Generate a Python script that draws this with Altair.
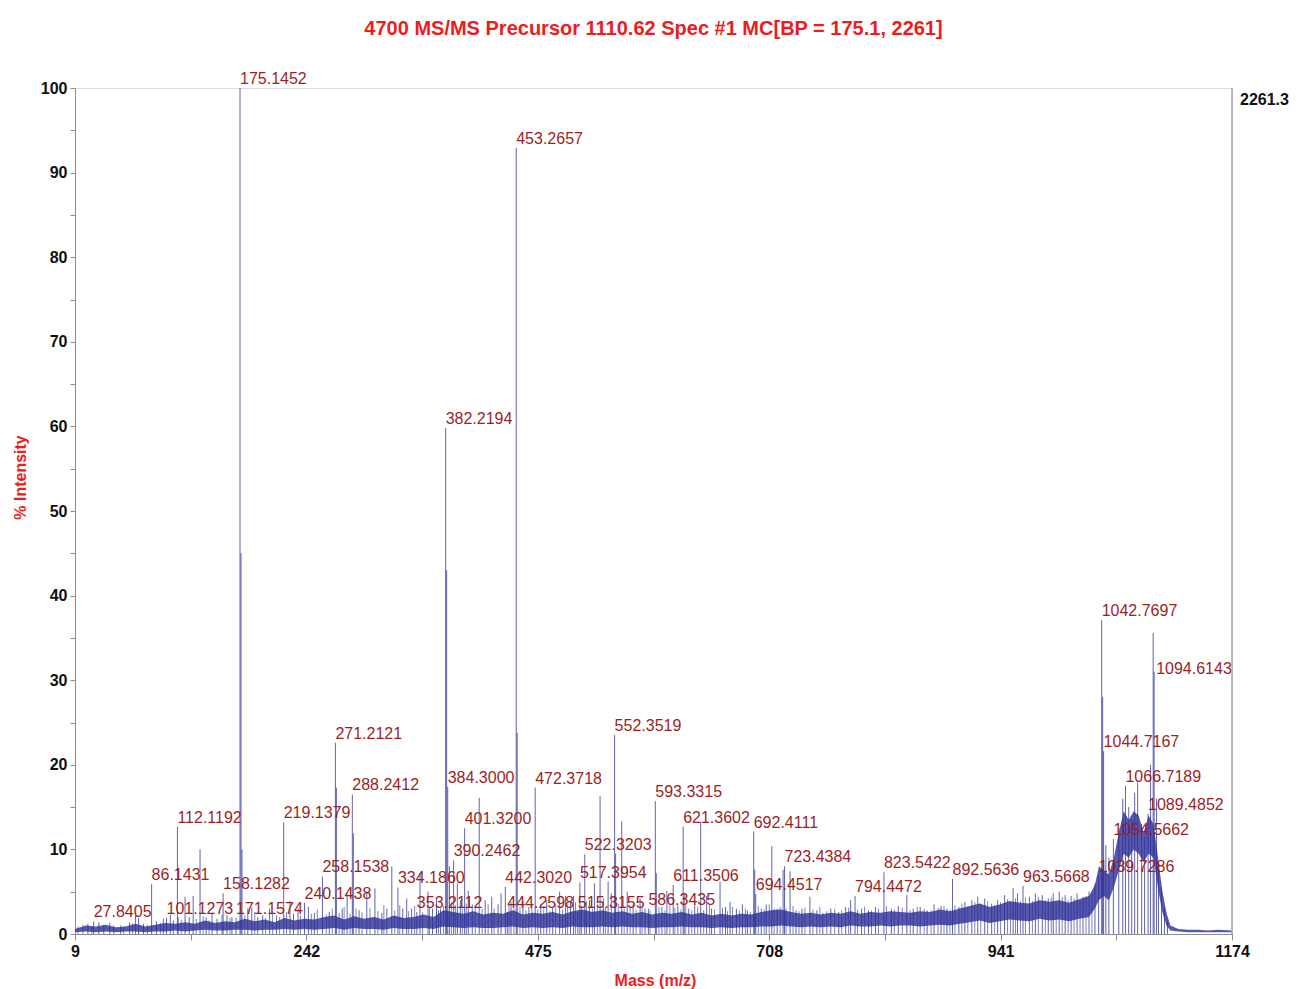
import altair as alt
import pandas as pd

# ---- annotated fragment peaks (m/z, % intensity) ----
labeled_mz = [27.8405, 86.1431, 101.1273, 112.1192, 158.1282, 171.1574, 175.1452,
              219.1379, 240.1438, 258.1538, 271.2121, 288.2412, 334.1860, 353.2112,
              382.2194, 384.3000, 390.2462, 401.3200, 442.3020, 444.2598, 453.2657,
              472.3718, 515.3155, 517.3954, 522.3203, 552.3519, 586.3435, 593.3315,
              611.3506, 621.3602, 692.4111, 694.4517, 723.4384, 794.4472, 823.5422,
              892.5636, 963.5668, 1039.7286, 1042.7697, 1044.7167, 1054.5662,
              1066.7189, 1089.4852, 1094.6143]
labeled_int = [1.5, 5.9, 1.9, 12.7, 4.8, 1.9, 100.0,
               13.2, 3.7, 6.8, 22.6, 16.5, 5.5, 2.6,
               59.8, 17.4, 8.7, 12.5, 5.6, 2.6, 92.9,
               17.3, 2.6, 6.1, 9.4, 23.5, 3.0, 15.7,
               5.8, 12.7, 12.1, 4.7, 8.0, 4.5, 7.3,
               6.5, 5.7, 6.9, 37.1, 21.6, 11.2,
               17.5, 14.2, 35.6]

# labels written beside their line rather than above its tip
side_labels = ["1094.6143"]

# ---- unannotated peaks (m/z, % intensity) ----
minor_mz = [22, 33, 38, 44, 55, 64, 70, 73, 78, 91, 98, 105, 108, 119.8, 124, 128,
            134.9, 141, 147, 152, 162, 167, 176.15, 177.15, 183, 187, 193, 198, 205,
            212, 225.5, 229, 233.6, 244, 250, 265, 272.21, 278, 283, 289.24, 295,
            302.8, 311, 318, 323, 328, 339, 343, 348, 356.4, 364.5, 369, 373, 377,
            383.22, 386, 394, 397, 405, 409, 416, 422, 428.6, 435, 438, 448, 454.27,
            460, 466, 478, 484, 490, 497, 503, 508, 511, 527, 532, 537.7, 541, 545.8,
            549, 553.35, 559.5, 565, 571, 578, 583, 594.33, 600, 605, 616, 622.36,
            627, 633, 639, 645, 650, 658.5, 664, 668.6, 675, 681, 686, 693.41, 700,
            705, 710.6, 716, 722, 729, 735, 741, 749, 756, 762, 770, 778, 785, 790,
            801, 808, 815, 831, 838, 846.6, 853, 860, 867, 874, 881, 887, 899, 905,
            912, 918, 925, 932, 938, 945, 953.6, 958, 970, 976, 983, 989, 994, 1000,
            1006, 1012, 1018, 1024, 1030, 1036, 1043.77, 1047, 1050, 1060, 1064,
            1070, 1073, 1076, 1079, 1083, 1086, 1092, 1095.61, 1098, 1100, 1103,
            1106, 1109]
minor_int = [1.2, 1.4, 1.1, 1.3, 1.0, 1.4, 2.2, 1.9, 1.2, 1.5, 1.8, 2.3, 1.6, 4.4, 2.0, 4.5,
             10.0, 2.0, 2.5, 1.8, 2.2, 2.0, 45.0, 10.0, 3.0, 3.1, 2.0, 2.2, 3.0,
             2.2, 3.9, 2.4, 3.0, 3.2, 2.5, 2.6, 17.3, 3.0, 4.8, 11.9, 2.8,
             5.0, 5.4, 2.5, 3.0, 8.0, 3.0, 4.2, 3.0, 7.2, 5.0, 3.0, 4.2, 3.0,
             43.0, 8.0, 6.0, 4.0, 5.1, 3.5, 16.1, 4.0, 4.4, 3.5, 4.8, 3.8, 23.8,
             4.0, 3.2, 3.5, 4.0, 3.2, 5.0, 4.5, 3.8, 4.5, 4.0, 6.0, 16.3, 4.2, 6.2,
             4.8, 9.5, 13.3, 5.0, 3.5, 4.2, 3.0, 7.2, 3.2, 5.1, 3.4, 4.8,
             3.0, 3.5, 13.3, 4.5, 3.0, 6.2, 3.2, 3.8, 3.0, 3.5, 2.8, 7.6, 3.0,
             3.5, 10.4, 3.0, 7.6, 7.4, 2.8, 3.0, 4.4, 2.8, 2.5, 3.0, 2.6, 3.2, 4.0,
             3.0, 2.8, 3.2, 3.0, 3.3, 4.6, 3.0, 3.2, 2.8, 3.5, 3.3, 3.0, 3.2, 3.8,
             4.0, 4.4, 4.2, 3.6, 4.0, 4.6, 5.4, 4.8, 4.4, 4.8, 4.6, 4.2, 4.8, 5.0,
             4.6, 4.5, 4.8, 4.4, 5.0, 6.0, 28.0, 10.5, 9.0, 12.5, 16.0,
             15.0, 13.5, 16.7, 17.9, 13.0, 11.5, 20.0, 31.0, 16.0, 8.4, 5.5,
             3.0, 1.5]

# ---- grass of tiny spikes riding on the baseline (m/z, % intensity) ----
grass_mz = [12, 17, 26, 48, 58, 67, 82, 95, 113, 116, 131, 138, 144, 157, 165, 180, 190,
            201, 208, 215, 222, 236, 247, 253, 262, 268, 275, 280, 286, 292, 298, 306,
            314, 320, 331, 336, 345, 351, 359, 366, 375, 380, 388, 392, 399, 403, 412,
            419, 425, 431, 446, 451, 457, 463, 469, 475, 481, 487, 493, 500, 505, 513,
            519, 524, 530, 535, 543, 556, 562, 568, 574, 580, 588, 597, 603, 608, 613,
            619, 624, 630, 636, 642, 648, 653, 661, 666, 671, 678, 684, 689, 697, 703,
            708, 713, 719, 725, 732, 738, 744, 752, 759, 766, 774, 781, 788, 797, 804,
            811, 818, 826, 834, 842, 850, 857, 864, 871, 878, 884, 890, 895, 902, 908,
            915, 921, 928, 935, 941, 948, 951, 956, 961, 966, 973, 979, 986, 992, 997,
            1003, 1009, 1015, 1021, 1027, 1033]
grass_int = [0.9, 1.1, 0.9, 1.0, 0.9, 1.3, 1.1, 1.3, 2.0, 1.7, 1.8, 2.1, 1.6, 2.3, 1.9, 2.2, 2.6,
             1.9, 2.4, 2.0, 2.6, 2.2, 2.4, 2.9, 2.3, 3.0, 2.5, 3.2, 2.4, 3.0, 2.6, 3.1,
             2.7, 3.4, 2.8, 3.4, 2.7, 3.3, 2.6, 3.1, 2.8, 3.3, 3.8, 3.4, 3.0, 3.6, 3.2,
             3.0, 3.5, 3.0, 3.4, 3.0, 3.2, 2.8, 3.4, 2.9, 3.3, 2.7, 3.5, 2.9, 3.4, 3.8,
             3.3, 3.9, 3.0, 3.5, 3.2, 3.6, 3.0, 3.4, 2.9, 3.3, 2.8, 3.2, 2.8, 3.4, 3.1,
             2.9, 3.4, 2.8, 3.2, 2.8, 3.4, 2.9, 3.1, 2.7, 3.2, 2.8, 3.0, 2.6, 3.3, 2.9,
             3.5, 3.0, 3.2, 3.0, 3.3, 2.7, 3.1, 2.9, 3.2, 2.7, 3.0, 2.8, 3.1, 2.9, 3.2,
             2.8, 3.0, 3.3, 2.9, 3.1, 2.8, 3.2, 3.0, 2.8, 3.1, 3.3, 2.9, 3.4, 3.6, 3.2,
             3.8, 3.5, 3.9, 3.4, 3.8, 4.1, 3.6, 4.2, 3.9, 4.3, 3.9, 4.4, 4.0, 4.3, 3.9,
             4.4, 4.0, 4.2, 3.9, 4.5, 4.8]

# ---- chemical-noise baseline envelope (m/z, lower %, upper %) ----
noise_mz = [9, 20, 30, 40, 50, 60, 70, 80, 90, 100, 110, 120, 130, 140, 150, 160, 170,
            180, 190, 200, 210, 220, 230, 240, 250, 260, 270, 280, 290, 300, 310, 320,
            330, 340, 350, 360, 370, 380, 390, 400, 410, 420, 430, 440, 450, 460, 470,
            480, 490, 500, 510, 520, 530, 540, 550, 560, 570, 580, 590, 600, 610, 620,
            630, 640, 650, 660, 670, 680, 690, 700, 710, 720, 730, 740, 750, 760, 770,
            780, 790, 800, 810, 820, 830, 840, 850, 860, 870, 880, 890, 900, 910, 920,
            930, 940, 950, 960, 970, 980, 990, 1000, 1010, 1020, 1030, 1036, 1040, 1045,
            1050, 1055, 1060, 1065, 1070, 1075, 1080, 1085, 1090, 1095, 1100, 1104, 1108,
            1112, 1120, 1130, 1140, 1150, 1160, 1174]
noise_lo = [0.2, 0.3, 0.2, 0.3, 0.2, 0.3, 0.3, 0.2, 0.3, 0.3, 0.4, 0.3, 0.4, 0.5, 0.4, 0.4, 0.5,
            0.5, 0.4, 0.5, 0.5, 0.6, 0.5, 0.6, 0.5, 0.6, 0.7, 0.5, 0.7, 0.6, 0.6, 0.5,
            0.7, 0.6, 0.6, 0.7, 0.6, 0.9, 0.8, 0.7, 0.8, 0.7, 0.7, 0.8, 0.9, 0.7, 0.8,
            0.7, 0.8, 0.7, 0.9, 0.8, 0.8, 0.9, 0.8, 0.9, 0.8, 0.8, 0.7, 0.8, 0.8, 0.9,
            0.8, 0.8, 0.7, 0.8, 0.7, 0.8, 0.8, 0.9, 0.9, 1.0, 0.9, 0.8, 0.9, 0.8, 0.9,
            0.8, 1.0, 0.9, 0.9, 1.0, 0.9, 1.0, 1.0, 0.9, 1.0, 1.1, 1.0, 1.2, 1.4, 1.6,
            1.3, 1.5, 1.7, 1.6, 1.5, 1.8, 1.6, 1.7, 1.5, 1.8, 2.0, 3.0, 4.0, 4.5,
            4.0, 5.5, 7.5, 9.5, 9.0, 10.0, 9.5, 8.5, 9.5, 9.0, 5.0, 2.5, 1.0,
            0.4, 0.3, 0.2, 0.2, 0.2, 0.2, 0.2]
noise_hi = [0.6, 1.0, 0.9, 1.1, 0.8, 0.9, 1.2, 0.9, 1.1, 1.3, 1.2, 1.4, 1.2, 1.6, 1.3, 1.5, 1.4,
            1.8, 1.5, 1.7, 1.4, 1.9, 1.6, 1.8, 1.7, 2.0, 2.2, 1.7, 2.1, 1.8, 2.0, 1.7,
            2.2, 1.9, 2.0, 2.3, 2.0, 2.8, 2.6, 2.4, 2.7, 2.3, 2.5, 2.4, 2.8, 2.3, 2.5,
            2.4, 2.6, 2.3, 2.7, 2.9, 2.6, 2.8, 2.5, 2.7, 2.4, 2.6, 2.3, 2.5, 2.4, 2.6,
            2.3, 2.5, 2.2, 2.4, 2.2, 2.4, 2.3, 2.6, 2.8, 2.9, 2.6, 2.4, 2.5, 2.3, 2.5,
            2.4, 2.7, 2.4, 2.6, 2.5, 2.7, 2.6, 2.5, 2.7, 2.6, 2.9, 2.7, 3.0, 3.3, 3.6,
            3.2, 3.5, 3.9, 3.7, 3.6, 4.0, 3.8, 4.0, 3.7, 4.1, 4.5, 5.8, 8.0, 7.5,
            7.0, 9.0, 12.0, 14.5, 13.5, 14.5, 14.0, 12.0, 14.0, 13.0, 8.5, 5.0, 2.5,
            1.0, 0.6, 0.5, 0.5, 0.4, 0.5, 0.4]

x_major = [9, 242, 475, 708, 941, 1174]
x_ticks = [9, 125.5, 242, 358.5, 475, 591.5, 708, 824.5, 941, 1057.5, 1174]
y_ticks = [0, 5, 10, 15, 20, 25, 30, 35, 40, 45, 50, 55, 60, 65, 70, 75, 80, 85, 90, 95, 100]
base_peak_counts = "2261.3"
title_text = "4700 MS/MS Precursor 1110.62 Spec #1 MC[BP = 175.1, 2261]"

W, H = 1157, 846
SPEC = "#2c2f96"
LABEL_RED = "#9c1f25"
TITLE_RED = "#ee1c1c"
FONT = "Liberation Sans"

labels = pd.DataFrame({
    "mz": labeled_mz,
    "intensity": labeled_int,
    "label": [f"{m:.4f}" for m in labeled_mz],
})
labels["side"] = labels["label"].isin(side_labels)
sticks = pd.concat([
    labels[["mz", "intensity"]],
    pd.DataFrame({"mz": minor_mz, "intensity": minor_int}),
], ignore_index=True)
grass = pd.DataFrame({"mz": grass_mz, "intensity": grass_int})
noise = pd.DataFrame({"mz": noise_mz, "lo": noise_lo, "hi": noise_hi})

x_scale = alt.Scale(domain=[9, 1174], nice=False, zero=False)
y_scale = alt.Scale(domain=[0, 100], nice=False)

major_expr = ("indexof([" + ",".join(str(v) for v in x_major) +
              "], datum.value) >= 0 ? format(datum.value, 'd') : ''")

x_axis = alt.Axis(values=x_ticks, labelExpr=major_expr, grid=False, labelFlush=False,
                  labelOverlap=False, tickSize=6, tickColor="#8c8c8c", domainColor="#8c8c8c",
                  labelFont=FONT, labelFontWeight="bold", labelFontSize=16,
                  labelColor="#111111", labelPadding=3,
                  title="Mass (m/z)", titleColor=TITLE_RED, titleFont=FONT,
                  titleFontWeight="bold", titleFontSize=16, titleX=580, titleY=46,
                  titleBaseline="middle")
y_axis = alt.Axis(values=y_ticks, labelExpr="datum.value % 10 == 0 ? format(datum.value, 'd') : ''",
                  grid=False, labelOverlap=False, tickSize=5, tickColor="#8c8c8c",
                  domainColor="#8c8c8c", labelFont=FONT, labelFontWeight="bold",
                  labelFontSize=16, labelColor="#111111", labelPadding=3,
                  title="% Intensity", titleColor=TITLE_RED, titleFont=FONT,
                  titleFontWeight="bold", titleFontSize=16, titleX=-55, titleY=389,
                  titleAngle=270, titleBaseline="middle", titleAlign="center")

band = alt.Chart(noise).mark_area(color=SPEC, opacity=0.8, interpolate="linear").encode(
    x=alt.X("mz:Q", scale=x_scale, axis=x_axis),
    y=alt.Y("lo:Q", scale=y_scale, axis=y_axis),
    y2="hi:Q",
)

grass_lines = alt.Chart(grass).mark_rule(color=SPEC, strokeWidth=1, opacity=0.6).encode(
    x=alt.X("mz:Q", scale=x_scale),
    y=alt.Y("intensity:Q", scale=y_scale),
    y2=alt.datum(0),
)

lines = alt.Chart(sticks).mark_rule(color=SPEC, strokeWidth=1, opacity=0.75).encode(
    x=alt.X("mz:Q", scale=x_scale),
    y=alt.Y("intensity:Q", scale=y_scale),
    y2=alt.datum(0),
)

text_style = dict(align="left", font=FONT, fontSize=16, color=LABEL_RED)

top_text = alt.Chart(labels).transform_filter("!datum.side").mark_text(
    baseline="alphabetic", dy=-4, **text_style
).encode(
    x=alt.X("mz:Q", scale=x_scale),
    y=alt.Y("intensity:Q", scale=y_scale),
    text="label:N",
)

side_text = alt.Chart(labels).transform_filter("datum.side").mark_text(
    baseline="middle", dx=3, dy=36, **text_style
).encode(
    x=alt.X("mz:Q", scale=x_scale),
    y=alt.Y("intensity:Q", scale=y_scale),
    text="label:N",
)

right_edge = alt.Chart(pd.DataFrame({"v": [0]})).mark_rule(color="#a6a6a6", strokeWidth=1.5).encode(
    x=alt.value(W), y=alt.value(0), y2=alt.value(H),
)
counts_text = alt.Chart(pd.DataFrame({"t": [base_peak_counts]})).mark_text(
    align="left", baseline="middle", font=FONT, fontWeight="bold", fontSize=16,
    color="#111111",
).encode(x=alt.value(W + 8), y=alt.value(12), text="t:N")

chart = alt.layer(band, grass_lines, lines, top_text, side_text, right_edge, counts_text).properties(
    width=W, height=H,
    autosize=alt.AutoSizeParams(type="none"),
    padding={"left": 75, "top": 88, "right": 68, "bottom": 55},
    title=alt.Title(title_text, color=TITLE_RED, font=FONT, fontWeight="bold",
                    fontSize=20, anchor="middle", offset=32),
).configure_view(stroke=None).configure(background="white")

chart.save("out.html", embed_options={"renderer": "svg", "actions": False})
